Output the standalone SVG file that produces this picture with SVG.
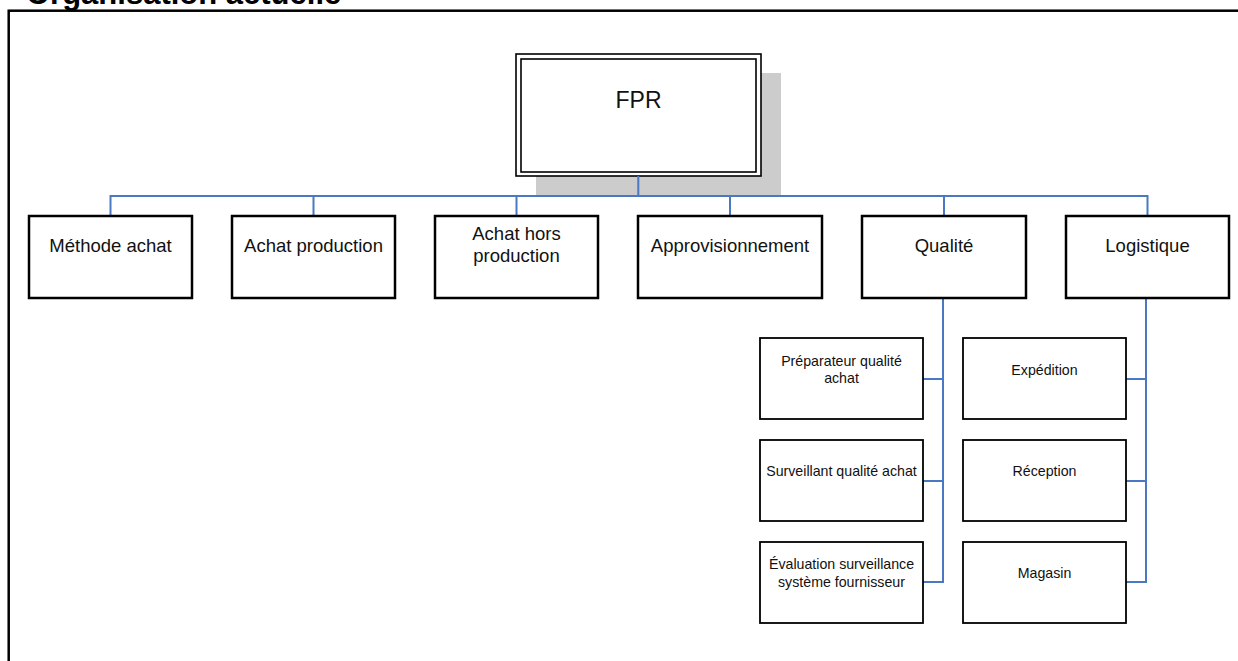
<svg xmlns="http://www.w3.org/2000/svg" width="1238" height="661" viewBox="0 0 1238 661">
<style>
  .t { font-family: "Liberation Sans", Arial, sans-serif; fill: #111; text-anchor: middle; }
  .l1 { font-size: 18.5px; }
  .l2 { font-size: 14.2px; }
  .box1 { fill: #fff; stroke: #000; stroke-width: 2.5; }
  .box2 { fill: #fff; stroke: #000; stroke-width: 1.8; }
  .conn { fill: none; stroke: #4A78C2; stroke-width: 2; }
</style>
<rect width="1238" height="661" fill="#fff"/>
<text x="26" y="4" font-family="Liberation Sans, Arial, sans-serif" font-weight="bold" font-size="31" fill="#000">Organisation actuelle</text>
<rect x="8.7" y="10.7" width="1300" height="700" fill="none" stroke="#000" stroke-width="2.5"/>

<g id="fpr">
  <rect x="536" y="73" width="245" height="122" fill="#cccccc"/>
  <rect x="516" y="54" width="245" height="122" fill="#fff" stroke="#000" stroke-width="1.6"/>
  <rect x="521" y="59" width="235" height="113" fill="none" stroke="#000" stroke-width="1.6"/>
  <text class="t" x="638.5" y="108" font-size="23">FPR</text>
</g>

<g id="connectors">
  <path class="conn" d="M638.3 176 V196 M110.5 216 V196 H1147.5 V216 M313.5 196 V216 M516.5 196 V216 M730 196 V216 M944 196 V216"/>
  <path class="conn" d="M943 298 V582 H923 M923 379 H943 M923 481 H943"/>
  <path class="conn" d="M1146 298 V582 H1126 M1126 379 H1146 M1126 481 H1146"/>
</g>

<g id="methode-achat">
  <rect class="box1" x="29" y="216" width="163" height="82"/>
  <text class="t l1" x="110.5" y="252">Méthode achat</text>
</g>
<g id="achat-production">
  <rect class="box1" x="232" y="216" width="163" height="82"/>
  <text class="t l1" x="313.5" y="252">Achat production</text>
</g>
<g id="achat-hors-production">
  <rect class="box1" x="435" y="216" width="163" height="82"/>
  <text class="t l1" x="516.5" y="240">Achat hors</text>
  <text class="t l1" x="516.5" y="262">production</text>
</g>
<g id="approvisionnement">
  <rect class="box1" x="638" y="216" width="184" height="82"/>
  <text class="t l1" x="730" y="252">Approvisionnement</text>
</g>
<g id="qualite">
  <rect class="box1" x="862" y="216" width="164" height="82"/>
  <text class="t l1" x="944" y="252">Qualité</text>
</g>
<g id="logistique">
  <rect class="box1" x="1066" y="216" width="163" height="82"/>
  <text class="t l1" x="1147.5" y="252">Logistique</text>
</g>

<g id="preparateur">
  <rect class="box2" x="760" y="338" width="163" height="81"/>
  <text class="t l2" x="841.5" y="366">Préparateur qualité</text>
  <text class="t l2" x="841.5" y="382.5">achat</text>
</g>
<g id="surveillant">
  <rect class="box2" x="760" y="440" width="163" height="81"/>
  <text class="t l2" x="841.5" y="476">Surveillant qualité achat</text>
</g>
<g id="evaluation">
  <rect class="box2" x="760" y="542" width="163" height="81"/>
  <text class="t l2" x="841.5" y="568.5">Évaluation surveillance</text>
  <text class="t l2" x="841.5" y="586.5">système fournisseur</text>
</g>
<g id="expedition">
  <rect class="box2" x="963" y="338" width="163" height="81"/>
  <text class="t l2" x="1044.5" y="375">Expédition</text>
</g>
<g id="reception">
  <rect class="box2" x="963" y="440" width="163" height="81"/>
  <text class="t l2" x="1044.5" y="476">Réception</text>
</g>
<g id="magasin">
  <rect class="box2" x="963" y="542" width="163" height="81"/>
  <text class="t l2" x="1044.5" y="578">Magasin</text>
</g>
</svg>
